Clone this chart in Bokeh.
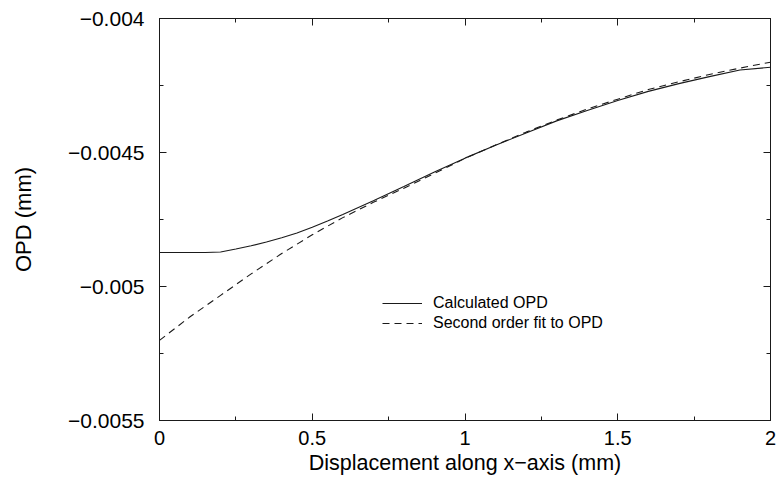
from bokeh.plotting import figure
from bokeh.models import (LinearAxis, FixedTicker, Range1d, Legend, LegendItem,
                          CustomLabelingPolicy)
from bokeh.embed import file_html
from bokeh.resources import INLINE

# ---- data ----
x_calc = [0.0, 0.1, 0.15, 0.2, 0.25, 0.3, 0.35, 0.4, 0.45, 0.5, 0.55, 0.6,
          0.7, 0.8, 0.9, 1.0, 1.1, 1.2, 1.3, 1.4, 1.5, 1.6, 1.7, 1.8, 1.9, 2.0]
opd_calc = [-0.004873, -0.004873, -0.004873, -0.004871, -0.004860, -0.004848,
            -0.004834, -0.004818, -0.004800, -0.004779, -0.004756, -0.004731,
            -0.004680, -0.004627, -0.004573, -0.004521,
            -0.004473, -0.004427, -0.004382, -0.004343, -0.004306,
            -0.004272, -0.004243, -0.004217, -0.004192, -0.004182]

x_fit = [0.0, 0.1, 0.2, 0.3, 0.4, 0.5, 0.6, 0.7, 0.8, 0.9, 1.0,
         1.1, 1.2, 1.3, 1.4, 1.5, 1.6, 1.7, 1.8, 1.9, 2.0]
opd_fit = [-0.005201, -0.005113, -0.005033, -0.004953, -0.004877, -0.004807,
           -0.004743, -0.004686, -0.004633, -0.004578, -0.004522,
           -0.004472, -0.004424, -0.004379, -0.004338, -0.004301,
           -0.004265, -0.004236, -0.004209, -0.004185, -0.004163]

x_ticks = [0, 0.5, 1, 1.5, 2]
x_tick_labels = ["0", "0.5", "1", "1.5", "2"]
x_minor = [0.25, 0.75, 1.25, 1.75]
y_ticks = [-0.0055, -0.005, -0.0045, -0.004]
y_tick_labels = ["\u22120.0055", "\u22120.005", "\u22120.0045", "\u22120.004"]
y_minor = [-0.00525, -0.00475, -0.00425]

series_names = ["Calculated OPD", "Second order fit to OPD"]

FONT = "Liberation Sans"
INK = "#1a1a1a"

p = figure(width=776, height=479, output_backend="svg", toolbar_location=None,
           x_range=Range1d(0, 2), y_range=Range1d(-0.0055, -0.004),
           min_border_left=159, min_border_right=6, min_border_top=18,
           min_border_bottom=59, background_fill_color="white",
           border_fill_color="white")
p.grid.visible = False
p.outline_line_color = INK
p.outline_line_width = 1

no_labels = CustomLabelingPolicy(
    code="for (const i of Array.from(indices)) { indices.unset(i) } return indices")

def style_axis(ax, size):
    ax.axis_line_color = INK
    ax.major_tick_line_color = INK
    ax.minor_tick_line_color = INK
    ax.major_tick_in = 7
    ax.major_tick_out = 0
    ax.minor_tick_in = 4
    ax.minor_tick_out = 0
    ax.major_label_text_font = FONT
    ax.major_label_text_color = "black"
    if size:
        ax.major_label_text_font_size = size
    else:
        ax.major_label_policy = no_labels
        ax.major_label_text_font_size = "0px"
        ax.major_label_standoff = 0

xt = FixedTicker(ticks=x_ticks, minor_ticks=x_minor)
yt = FixedTicker(ticks=y_ticks, minor_ticks=y_minor)

xa = p.xaxis[0]
xa.ticker = xt
xa.major_label_overrides = dict(zip(x_ticks, x_tick_labels))
style_axis(xa, "20px")
xa.major_label_standoff = 10
xa.axis_label = "Displacement along x\u2212axis (mm)"
xa.axis_label_text_font = FONT
xa.axis_label_text_font_style = "normal"
xa.axis_label_text_font_size = "21.5px"
xa.axis_label_text_color = "black"
xa.axis_label_standoff = 3

ya = p.yaxis[0]
ya.ticker = yt
ya.major_label_overrides = dict(zip(y_ticks, y_tick_labels))
style_axis(ya, "21px")
ya.major_label_standoff = 15
ya.axis_label = "OPD (mm)"
ya.axis_label_text_font = FONT
ya.axis_label_text_font_style = "normal"
ya.axis_label_text_font_size = "22px"
ya.axis_label_text_color = "black"
ya.axis_label_standoff = 29

top = LinearAxis(ticker=FixedTicker(ticks=x_ticks, minor_ticks=x_minor))
style_axis(top, None)
p.add_layout(top, "above")
right = LinearAxis(ticker=FixedTicker(ticks=y_ticks, minor_ticks=y_minor))
style_axis(right, None)
p.add_layout(right, "right")

r1 = p.line(x_calc, opd_calc, line_color=INK, line_width=1.1)
r2 = p.line(x_fit, opd_fit, line_color=INK, line_width=1.1, line_dash="7 5")

legend = Legend(items=[LegendItem(label=series_names[0], renderers=[r1]),
                       LegendItem(label=series_names[1], renderers=[r2])],
                location=(223, 87), orientation="vertical",
                border_line_alpha=0, background_fill_alpha=0,
                padding=0, margin=0, spacing=0,
                glyph_width=40, glyph_height=20, label_height=20,
                label_standoff=11,
                label_text_font=FONT, label_text_font_size="16px",
                label_text_color="black")
p.add_layout(legend, "center")

open("out.html", "w").write(file_html(p, INLINE))
